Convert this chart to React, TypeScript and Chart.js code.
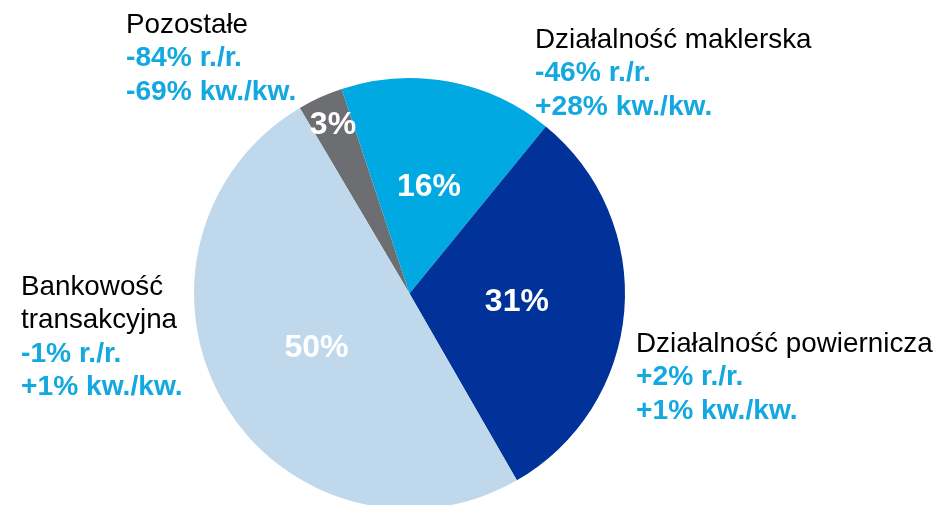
import React, { useEffect, useRef } from "react";
import { Chart, registerables } from "chart.js";

Chart.register(...registerables);

const categories = [
  "Pozostałe",
  "Działalność maklerska",
  "Działalność powiernicza",
  "Bankowość transakcyjna",
];
const shares = [3.4, 16.0, 30.8, 49.8];
const shareLabels = ["3%", "16%", "31%", "50%"];
const yoyLabels = ["-84% r./r.", "-46% r./r.", "+2% r./r.", "-1% r./r."];
const qoqLabels = ["-69% kw./kw.", "+28% kw./kw.", "+1% kw./kw.", "+1% kw./kw."];
const nameLines = [
  ["Pozostałe"],
  ["Działalność maklerska"],
  ["Działalność powiernicza"],
  ["Bankowość", "transakcyjna"],
];

const colors = ["#6d6e71", "#00a9e2", "#00329a", "#bfd8eb"];
const CYAN_TEXT = "#13a8e0";
const FONT = "'Liberation Sans', Arial, sans-serif";

// callout placement: left x and first baseline y (page px)
const calloutPos = [
  { x: 126, y: 33 },
  { x: 535, y: 48 },
  { x: 636, y: 352 },
  { x: 21, y: 295 },
];
const innerRadiusFactor = [0.857, 0.5, 0.5, 0.5];

const labelPlugin = {
  id: "labelPlugin",
  afterDraw(chart: any) {
    const ctx = chart.ctx;
    const meta = chart.getDatasetMeta(0);
    ctx.save();
    meta.data.forEach((arc: any, i: number) => {
      const p = arc.getProps(["x", "y", "startAngle", "endAngle", "outerRadius"], true);
      const mid = (p.startAngle + p.endAngle) / 2;
      const r = p.outerRadius * innerRadiusFactor[i];
      ctx.fillStyle = "#ffffff";
      ctx.font = `bold 32px ${FONT}`;
      ctx.textAlign = "center";
      ctx.textBaseline = "middle";
      ctx.fillText(shareLabels[i], p.x + Math.cos(mid) * r, p.y + Math.sin(mid) * r);
    });
    ctx.textAlign = "left";
    ctx.textBaseline = "alphabetic";
    const lh = 33.3;
    calloutPos.forEach((pos, i) => {
      let y = pos.y;
      ctx.fillStyle = "#000000";
      ctx.font = `27.8px ${FONT}`;
      nameLines[i].forEach((t) => {
        ctx.fillText(t, pos.x, y);
        y += lh;
      });
      ctx.fillStyle = CYAN_TEXT;
      ctx.font = `bold 28.2px ${FONT}`;
      ctx.fillText(yoyLabels[i], pos.x, y);
      y += lh;
      ctx.fillText(qoqLabels[i], pos.x, y);
    });
    ctx.restore();
  },
};

export default function App() {
  const ref = useRef<HTMLCanvasElement>(null);
  useEffect(() => {
    if (!ref.current) return;
    const chart = new Chart(ref.current, {
      type: "pie",
      data: {
        labels: categories,
        datasets: [
          {
            data: shares,
            backgroundColor: colors,
            borderWidth: 0,
          },
        ],
      },
      options: {
        responsive: false,
        animation: false,
        rotation: -30.6,
        layout: { padding: { left: 194, right: 313, top: 78, bottom: 11 } },
        plugins: {
          legend: { display: false },
          tooltip: { enabled: false },
        },
      },
      plugins: [labelPlugin],
    });
    return () => chart.destroy();
  }, []);
  return (
    <div
      style={{
        position: "absolute",
        left: 0,
        top: 0,
        width: 938,
        height: 505,
        overflow: "hidden",
        background: "#ffffff",
      }}
    >
      <canvas ref={ref} width={938} height={520} style={{ display: "block" }} />
    </div>
  );
}
